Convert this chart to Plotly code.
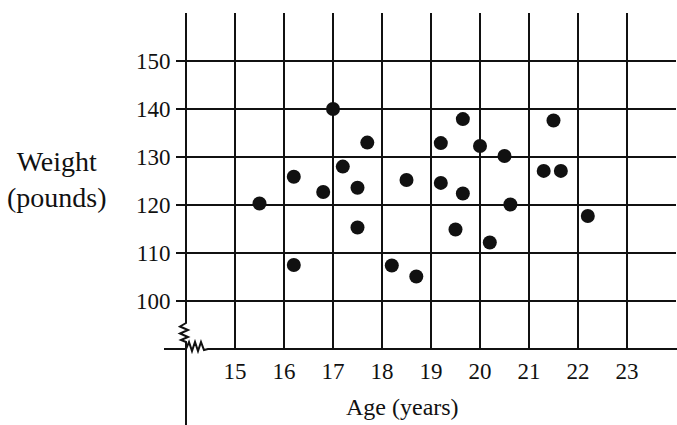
import plotly.graph_objects as go

# ---- data ----
ages = [15.5, 16.2, 16.2, 16.8, 17.0, 17.2, 17.5, 17.5, 17.7, 18.2, 18.5, 18.7,
        19.2, 19.2, 19.5, 19.65, 19.65, 20.0, 20.2, 20.5, 20.62, 21.3, 21.5, 21.65, 22.2]
weights = [120.3, 125.9, 107.5, 122.7, 140.0, 128.0, 123.6, 115.3, 133.0, 107.4, 125.2, 105.1,
           132.9, 124.6, 114.9, 137.9, 122.4, 132.3, 112.2, 130.2, 120.1, 127.1, 137.6, 127.1, 117.7]
x_ticks = [15, 16, 17, 18, 19, 20, 21, 22, 23]
y_ticks = [100, 110, 120, 130, 140, 150]
x_title = "Age (years)"
y_title = "Weight<br>(pounds)"

# ---- layout geometry (pixels) ----
W, H = 677, 425
L, R, T, B = 186, 1, 13, 76
pw, ph = W - L - R, H - T - B
FONT = "Liberation Serif"
INK = "#111111"


def pp(px, py):
    """pixel -> paper coordinates"""
    return (px - L) / pw, (H - B - py) / ph


def path(points):
    pts = [pp(*p) for p in points]
    return "M " + " L ".join(f"{x:.5f},{y:.5f}" for x, y in pts)


fig = go.Figure(
    go.Scatter(x=ages, y=weights, mode="markers",
               marker=dict(size=14, color=INK, line=dict(width=0)),
               cliponaxis=False, hoverinfo="x+y")
)

shapes = []
lw = 2
# left vertical axis line (with break)
shapes.append(dict(type="path", xref="paper", yref="paper",
                   path=path([(186, 13), (186, 323), (180, 326.5), (188, 330), (180, 333.5),
                              (188, 337), (181, 340), (186, 342), (186, 425)]),
                   line=dict(color=INK, width=lw)))
# bottom horizontal line (with break)
shapes.append(dict(type="path", xref="paper", yref="paper",
                   path=path([(164, 349), (186, 349), (189, 342), (192, 351), (195, 342),
                              (198, 351), (201, 342), (204, 350), (208, 349), (677, 349)]),
                   line=dict(color=INK, width=lw)))

fig.update_layout(
    width=W, height=H,
    margin=dict(l=L, r=R, t=T, b=B, pad=0),
    paper_bgcolor="white", plot_bgcolor="white",
    showlegend=False,
    shapes=shapes,
    font=dict(family=FONT, color=INK, size=23),
    xaxis=dict(range=[14, 24], tickvals=x_ticks, ticktext=[str(v) for v in x_ticks],
               showgrid=True, gridcolor=INK, gridwidth=2, zeroline=False,
               showline=False, ticks="", ticklabelstandoff=6,
               tickfont=dict(family=FONT, size=23, color=INK)),
    yaxis=dict(range=[90, 160], tickvals=y_ticks, ticktext=[str(v) for v in y_ticks],
               showgrid=True, gridcolor=INK, gridwidth=1.6, zeroline=False,
               showline=False, ticks="outside", ticklen=9, tickwidth=1.6, tickcolor=INK,
               ticklabelstandoff=1,
               tickfont=dict(family=FONT, size=23, color=INK)),
    annotations=[
        dict(text=y_title, xref="paper", yref="paper",
             x=pp(57, 179)[0], y=pp(57, 179)[1], showarrow=False,
             xanchor="center", yanchor="middle", align="center",
             font=dict(family=FONT, size=28, color=INK)),
        dict(text=x_title, xref="paper", yref="paper",
             x=pp(402, 407)[0], y=pp(402, 407)[1], showarrow=False,
             xanchor="center", yanchor="middle",
             font=dict(family=FONT, size=24, color=INK)),
    ],
)

fig.write_html(
    "out.html",
    config={"displayModeBar": False},
    post_script="document.body.style.margin='0';document.body.style.overflow='hidden';",
)
